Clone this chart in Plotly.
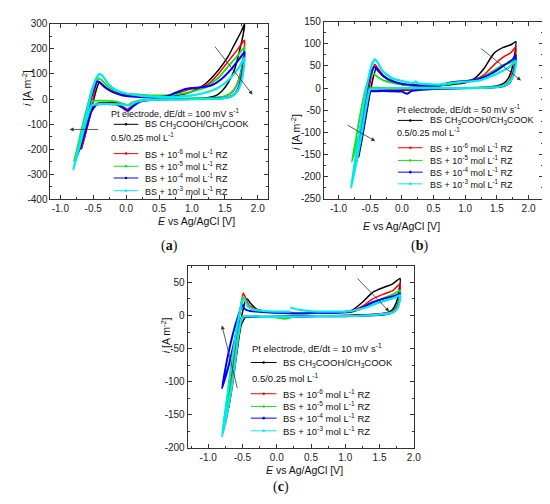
import plotly.graph_objects as go

# cyclic voltammograms on Pt, E in V vs Ag/AgCl, i in A m-2
series = ["BS", "1e-6", "1e-5", "1e-4", "1e-3"]

# ---- (a) 100 mV/s ----
E_a_bs = [-0.68, -0.62, -0.56, -0.50, -0.45, -0.41, -0.37, -0.30, -0.20, -0.10, 0.0, 0.2, 0.4, 0.6, 0.8, 1.0, 1.2, 1.4, 1.55, 1.65, 1.75, 1.8,
          1.78, 1.72, 1.65, 1.55, 1.45, 1.35, 1.2, 1.0, 0.8, 0.6, 0.4, 0.2, 0.1, 0.02, -0.05, -0.15, -0.3, -0.45, -0.52, -0.58, -0.64, -0.68]
i_a_bs = [-200, -140, -70, -10, 40, 66, 60, 45, 30, 20, 15, 10, 8, 8, 15, 30, 60, 115, 170, 220, 270, 300,
          260, 190, 120, 65, 30, 12, 4, 2, 1, 0, -2, -8, -15, -25, -20, -15, -15, -18, -40, -100, -160, -200]
E_a_6 = [-0.69, -0.63, -0.57, -0.51, -0.47, -0.44, -0.40, -0.33, -0.22, -0.1, 0.0, 0.2, 0.4, 0.6, 0.8, 0.95, 1.1, 1.25, 1.4, 1.55, 1.7, 1.8,
         1.79, 1.75, 1.7, 1.62, 1.5, 1.3, 1.0, 0.7, 0.4, 0.2, 0.1, 0.02, -0.05, -0.15, -0.3, -0.45, -0.52, -0.58, -0.64, -0.69]
i_a_6 = [-200, -140, -70, -10, 45, 70, 68, 50, 32, 22, 16, 10, 8, 10, 25, 38, 45, 60, 100, 150, 200, 235,
         190, 120, 70, 30, 10, 3, 0, -1, -3, -10, -25, -40, -30, -20, -18, -20, -45, -100, -160, -200]
E_a_5 = [-0.79, -0.72, -0.65, -0.58, -0.52, -0.46, -0.41, -0.35, -0.25, -0.1, 0.0, 0.2, 0.4, 0.6, 0.8, 1.0, 1.2, 1.4, 1.55, 1.7, 1.8,
         1.79, 1.75, 1.68, 1.6, 1.5, 1.3, 1.0, 0.7, 0.4, 0.2, 0.08, 0.02, -0.05, -0.15, -0.3, -0.5, -0.58, -0.66, -0.73, -0.79]
i_a_5 = [-247, -170, -90, -20, 40, 72, 82, 70, 45, 28, 22, 18, 15, 15, 20, 30, 45, 85, 130, 175, 208,
         170, 110, 55, 25, 12, 5, 3, 1, 0, -5, -15, -25, -18, -10, -7, -8, -40, -120, -190, -247]
E_a_4 = [-0.74, -0.67, -0.61, -0.55, -0.49, -0.44, -0.40, -0.33, -0.22, -0.1, 0.0, 0.2, 0.4, 0.6, 0.75, 0.9, 1.0, 1.15, 1.3, 1.45, 1.6, 1.72, 1.8,
         1.79, 1.76, 1.72, 1.65, 1.55, 1.3, 1.0, 0.7, 0.4, 0.2, 0.1, 0.02, -0.05, -0.15, -0.3, -0.45, -0.53, -0.6, -0.67, -0.74]
i_a_4 = [-225, -150, -80, -15, 40, 70, 66, 48, 30, 18, 12, 8, 7, 10, 25, 40, 44, 47, 55, 80, 120, 160, 188,
         150, 100, 55, 20, 6, 1, 0, -1, -3, -12, -30, -47, -35, -22, -20, -22, -50, -110, -170, -225]
E_a_3 = [-0.80, -0.73, -0.66, -0.59, -0.52, -0.46, -0.40, -0.35, -0.27, -0.15, 0.0, 0.2, 0.4, 0.6, 0.8, 1.0, 1.2, 1.4, 1.55, 1.7, 1.8,
         1.79, 1.76, 1.7, 1.6, 1.45, 1.2, 0.9, 0.6, 0.3, 0.15, 0.05, -0.05, -0.2, -0.4, -0.52, -0.6, -0.67, -0.74, -0.80]
i_a_3 = [-280, -200, -120, -45, 30, 80, 100, 90, 60, 35, 22, 14, 10, 8, 10, 15, 25, 45, 75, 120, 165,
         130, 80, 35, 10, 3, 0, -1, -2, -4, -12, -25, -22, -20, -20, -25, -80, -150, -220, -280]

# ---- (b) 50 mV/s ----
E_b_bs = [-0.68, -0.62, -0.56, -0.50, -0.45, -0.40, -0.36, -0.28, -0.15, 0.0, 0.2, 0.4, 0.6, 0.8, 1.0, 1.15, 1.3, 1.45, 1.6, 1.72, 1.8,
          1.78, 1.74, 1.68, 1.6, 1.5, 1.3, 1.0, 0.7, 0.4, 0.2, 0.0, -0.2, -0.4, -0.5, -0.55, -0.6, -0.64, -0.68]
i_b_bs = [-155, -110, -60, -10, 25, 47, 40, 25, 14, 8, 5, 4, 5, 8, 12, 22, 45, 78, 92, 98, 105,
          75, 45, 22, 10, 5, 2, 0, -1, -2, -4, -5, -5, -6, -8, -40, -85, -120, -155]
E_b_6 = [-0.70, -0.64, -0.58, -0.52, -0.47, -0.43, -0.38, -0.30, -0.15, 0.0, 0.2, 0.4, 0.6, 0.8, 1.0, 1.15, 1.3, 1.45, 1.6, 1.72, 1.8,
         1.79, 1.75, 1.68, 1.58, 1.4, 1.1, 0.8, 0.5, 0.2, 0.0, -0.2, -0.4, -0.5, -0.56, -0.62, -0.66, -0.70]
i_b_6 = [-158, -110, -60, -5, 35, 54, 45, 30, 15, 8, 6, 5, 6, 12, 16, 20, 30, 52, 70, 80, 93,
         65, 35, 14, 5, 2, 0, -1, -2, -3, -4, -4, -5, -6, -45, -95, -130, -158]
E_b_5 = [-0.79, -0.73, -0.67, -0.61, -0.55, -0.49, -0.44, -0.38, -0.3, -0.15, 0.0, 0.2, 0.4, 0.6, 0.8, 1.0, 1.15, 1.3, 1.45, 1.6, 1.72, 1.8,
         1.79, 1.75, 1.68, 1.58, 1.4, 1.1, 0.8, 0.5, 0.2, 0.0, -0.2, -0.4, -0.5, -0.56, -0.63, -0.71, -0.79]
i_b_5 = [-167, -120, -70, -25, 10, 27, 32, 25, 18, 12, 8, 6, 5, 6, 10, 14, 18, 26, 40, 52, 58, 67,
         50, 30, 12, 5, 2, 1, 0, 0, 0, 0, 0, 1, 0, -30, -80, -125, -167]
E_b_4 = [-0.76, -0.70, -0.64, -0.58, -0.52, -0.47, -0.43, -0.38, -0.3, -0.15, 0.0, 0.2, 0.4, 0.6, 0.75, 0.9, 1.05, 1.2, 1.35, 1.5, 1.65, 1.75, 1.8,
         1.79, 1.76, 1.7, 1.6, 1.4, 1.1, 0.8, 0.5, 0.3, 0.15, 0.08, 0.0, -0.2, -0.4, -0.5, -0.55, -0.62, -0.69, -0.76]
i_b_4 = [-190, -140, -85, -30, 15, 40, 48, 40, 28, 16, 10, 7, 6, 7, 12, 15, 16, 20, 28, 40, 55, 65, 75,
         55, 32, 12, 4, 1, 0, -1, -2, -4, -7, -13, -8, -7, -7, -8, -40, -100, -150, -190]
E_b_3 = [-0.80, -0.74, -0.67, -0.60, -0.53, -0.47, -0.42, -0.37, -0.3, -0.15, 0.0, 0.2, 0.22, 0.25, 0.4, 0.6, 0.8, 0.95, 1.1, 1.25, 1.4, 1.55, 1.7, 1.8,
         1.79, 1.75, 1.68, 1.58, 1.4, 1.1, 0.8, 0.5, 0.2, 0.0, -0.2, -0.4, -0.5, -0.56, -0.63, -0.72, -0.80]
i_b_3 = [-226, -165, -100, -35, 20, 55, 65, 55, 38, 22, 16, 12, 15, 11, 9, 8, 12, 14, 15, 18, 26, 36, 48, 62,
         45, 25, 10, 4, 1, 0, 0, 0, 0, 0, -1, -1, -2, -40, -100, -170, -226]

# ---- (c) 10 mV/s ----
E_c_bs = [-0.70, -0.65, -0.60, -0.55, -0.50, -0.46, -0.43, -0.38, -0.3, -0.15, 0.0, 0.3, 0.6, 0.9, 1.1, 1.25, 1.4, 1.55, 1.68, 1.8,
          1.78, 1.74, 1.68, 1.55, 1.3, 1.0, 0.6, 0.2, -0.2, -0.45, -0.52, -0.58, -0.64, -0.70]
i_c_bs = [-140, -95, -55, -20, 5, 22, 25, 18, 10, 6, 5, 4, 4, 5, 8, 20, 35, 42, 47, 56,
          35, 18, 8, 3, 1, 0, -1, -1, -2, -2, -15, -55, -100, -140]
E_c_6 = [-0.75, -0.70, -0.64, -0.58, -0.53, -0.49, -0.46, -0.4, -0.3, -0.15, 0.0, 0.3, 0.6, 0.9, 1.1, 1.25, 1.4, 1.55, 1.7, 1.8,
         1.79, 1.75, 1.68, 1.55, 1.3, 1.0, 0.6, 0.2, -0.2, -0.5, -0.56, -0.62, -0.69, -0.75]
i_c_6 = [-165, -120, -70, -25, 10, 34, 28, 15, 9, 6, 5, 4, 5, 5, 7, 14, 25, 32, 38, 48,
         30, 14, 6, 3, 1, 0, -1, -2, -2, -2, -30, -80, -130, -165]
E_c_5 = [-0.78, -0.72, -0.66, -0.60, -0.54, -0.5, -0.46, -0.4, -0.3, -0.15, 0.0, 0.3, 0.6, 0.9, 1.1, 1.25, 1.4, 1.55, 1.7, 1.8,
         1.79, 1.75, 1.68, 1.55, 1.3, 1.0, 0.6, 0.25, 0.12, 0.0, -0.2, -0.5, -0.56, -0.63, -0.71, -0.78]
i_c_5 = [-175, -125, -75, -30, 5, 28, 22, 13, 8, 5, 4, 4, 4, 5, 6, 11, 19, 26, 32, 38,
         25, 12, 5, 2, 0, -1, -1, -2, -5, -3, -2, -2, -30, -85, -135, -175]
E_c_4 = [-0.80, -0.74, -0.68, -0.62, -0.56, -0.52, -0.5, -0.47, -0.4, -0.3, -0.15, 0.0, 0.3, 0.6, 0.9, 1.1, 1.25, 1.4, 1.55, 1.7, 1.8,
         1.79, 1.75, 1.68, 1.55, 1.3, 1.0, 0.6, 0.2, -0.2, -0.5, -0.56, -0.62, -0.7, -0.80]
i_c_4 = [-110, -75, -45, -20, 0, 12, 17, 10, 7, 6, 5, 4, 3, 4, 4, 6, 12, 20, 25, 29, 33,
         22, 10, 4, 1, 0, -1, -1, -2, -2, -3, -15, -40, -75, -110]
E_c_3 = [0.2, 0.3, 0.45, 0.6, 0.8, 1.0, 1.15, 1.3, 1.45, 1.6, 1.72, 1.8,
         1.79, 1.75, 1.68, 1.55, 1.3, 1.0, 0.6, 0.2, -0.2, -0.5, -0.56, -0.63, -0.71, -0.80,
         -0.74, -0.67, -0.60, -0.54, -0.5, -0.47, -0.43, -0.35, -0.2, 0.0, 0.2]
i_c_3 = [12, 9, 7, 6, 6, 6, 8, 12, 18, 23, 27, 31,
         20, 9, 4, 2, 0, -1, -1, -2, -2, -2, -30, -90, -140, -183,
         -135, -80, -30, 5, 22, 25, 15, 9, 7, 6, 6]

panel_a = [(E_a_bs, i_a_bs), (E_a_6, i_a_6), (E_a_5, i_a_5), (E_a_4, i_a_4), (E_a_3, i_a_3)]
panel_b = [(E_b_bs, i_b_bs), (E_b_6, i_b_6), (E_b_5, i_b_5), (E_b_4, i_b_4), (E_b_3, i_b_3)]
panel_c = [(E_c_bs, i_c_bs), (E_c_6, i_c_6), (E_c_5, i_c_5), (E_c_4, i_c_4), (E_c_3, i_c_3)]

rates = ["100", "50", "10"]
legend_labels = ["BS CH<sub>3</sub>COOH/CH<sub>3</sub>COOK",
                 "BS + 10<sup>-6</sup> mol L<sup>-1</sup> RZ",
                 "BS + 10<sup>-5</sup> mol L<sup>-1</sup> RZ",
                 "BS + 10<sup>-4</sup> mol L<sup>-1</sup> RZ",
                 "BS + 10<sup>-3</sup> mol L<sup>-1</sup> RZ"]
x_ticks = [-1.0, -0.5, 0.0, 0.5, 1.0, 1.5, 2.0]
y_ticks_a = [-400, -300, -200, -100, 0, 100, 200, 300]
y_ticks_b = [-250, -200, -150, -100, -50, 0, 50, 100, 150]
y_ticks_c = [-200, -150, -100, -50, 0, 50]

# ---- styling ----
W, H = 550, 504
FONT = "Liberation Sans, Arial, sans-serif"
colors = ["#000000", "#ff0000", "#1fdc1f", "#0000ff", "#00eaea"]
widths = [1.5, 1.5, 1.8, 2.0, 2.2]


def fx(p):
    return p / W


def fy(p):
    return 1 - p / H


# pixel boxes of the three plot areas: (left, right, top, bottom)
boxes = {"a": (43, 263, 10, 190), "b": (320, 542, 8, 189), "c": (182, 411, 258, 444.5)}

fig = go.Figure()

for k, (name, data) in enumerate([("a", panel_a), ("b", panel_b), ("c", panel_c)]):
    sfx = "" if k == 0 else str(k + 1)
    for j, (E, cur) in enumerate(data):
        fig.add_trace(go.Scatter(
            x=E, y=cur, mode="lines", name=series[j],
            line=dict(color=colors[j], width=widths[j], shape="spline", smoothing=0.5),
            xaxis="x" + sfx, yaxis="y" + sfx, showlegend=False, hoverinfo="skip"))


def axis(rng, box, vertical, ticks, minor, anchor):
    l, r, t, b = box
    dom = [fy(b), fy(t)] if vertical else [fx(l), fx(r)]
    txt = [str(v) for v in ticks] if vertical else [f"{v:.1f}" for v in ticks]
    return dict(range=rng, domain=dom, anchor=anchor, showline=True, linecolor="#333",
                linewidth=1, mirror="allticks", ticks="inside", ticklen=4, tickwidth=1,
                tickcolor="#333", tickmode="array", tickvals=ticks, ticktext=txt,
                showgrid=False, zeroline=False, fixedrange=True,
                tickfont=dict(family=FONT, size=10, color="#222"),
                minor=dict(ticks="inside", ticklen=2, tickwidth=1, tickcolor="#333",
                           tickmode="linear", tick0=0, dtick=minor, showgrid=False))


fig.update_layout(
    width=W, height=H, margin=dict(l=0, r=0, t=0, b=0),
    paper_bgcolor="white", plot_bgcolor="white", showlegend=False,
    xaxis=axis([-1.15, 2.15], boxes["a"], False, x_ticks, 0.25, "y"),
    yaxis=axis([-400, 300], boxes["a"], True, y_ticks_a, 50, "x"),
    xaxis2=axis([-1.23, 2.23], boxes["b"], False, x_ticks, 0.25, "y2"),
    yaxis2=axis([-250, 150], boxes["b"], True, y_ticks_b, 25, "x2"),
    xaxis3=axis([-1.3, 2.0], boxes["c"], False, x_ticks, 0.25, "y3"),
    yaxis3=axis([-200, 75], boxes["c"], True, y_ticks_c, 25, "x3"),
)

ann = []
shapes = []
# legends: title x, key start/end, text x, row y (pixels), font size
legend_pos = {
    "a": (102, 107, 132, 137, [101, 113, 126, 143, 156, 168, 181], 9),
    "b": (392, 395, 420, 425, [97, 109, 121, 137, 150, 162, 174], 9),
    "c": (245, 246, 272, 277, [342, 357, 373, 389, 402, 414, 427], 9.5),
}
for k, name in enumerate(["a", "b", "c"]):
    tx, k0, k1, txt_x, ys, fs = legend_pos[name]
    lf = dict(family=FONT, size=fs, color="#111")
    ann.append(dict(x=fx(tx), y=fy(ys[0]), xref="paper", yref="paper", xanchor="left", yanchor="middle",
                    text=f"Pt electrode, dE/dt = {rates[k]} mV s<sup>-1</sup>", showarrow=False, font=lf))
    ann.append(dict(x=fx(tx), y=fy(ys[2]), xref="paper", yref="paper", xanchor="left", yanchor="middle",
                    text="0.5/0.25 mol L<sup>-1</sup>", showarrow=False, font=lf))
    rows = [ys[1]] + ys[3:]
    for j, yy in enumerate(rows):
        ann.append(dict(x=fx(txt_x), y=fy(yy), xref="paper", yref="paper", xanchor="left", yanchor="middle",
                        text=legend_labels[j], showarrow=False, font=lf))
        shapes.append(dict(type="line", xref="paper", yref="paper", x0=fx(k0), x1=fx(k1),
                           y0=fy(yy), y1=fy(yy), line=dict(color=colors[j], width=1)))
        cx = (k0 + k1) / 2
        shapes.append(dict(type="circle", xref="paper", yref="paper", x0=fx(cx - 1.3), x1=fx(cx + 1.3),
                           y0=fy(yy + 1.3), y1=fy(yy - 1.3), fillcolor=colors[j], line=dict(width=0)))

# axis titles
tf = dict(family=FONT, size=10.5, color="#111")
for (xc, yc) in [(150, 212), (440, 217), (300, 475)]:
    ann.append(dict(x=fx(xc), y=fy(yc), xref="paper", yref="paper", showarrow=False,
                    text="<i>E</i> vs Ag/AgCl [V]", font=tf))
for (xc, yc) in [(10, 55), (291, 100), (151, 350)]:
    ann.append(dict(x=fx(xc), y=fy(yc), xref="paper", yref="paper", showarrow=False, textangle=-90,
                    text="<i>i</i> [A m<sup>-2</sup>]", font=tf))

# panel letters
pf = dict(family="Liberation Serif, Times New Roman, serif", size=14, color="#111")
for (xc, yc, t) in [(153, 238, "a"), (427, 238, "b"), (277, 495, "c")]:
    ann.append(dict(x=fx(xc), y=fy(yc), xref="paper", yref="paper", showarrow=False,
                    text=f"(<b>{t}</b>)", font=pf))

# trend arrows (data coordinates: tail -> head)
arrows = [("", (1.33, 215), (1.92, 18)), ("", (-0.40, -121), (-0.86, -121)),
          ("2", (1.23, 92), (1.88, 17)), ("2", (-0.88, -82), (-0.42, -120)),
          ("3", (1.16, 58), (1.64, 6)), ("3", (-0.57, -112), (-0.80, -15))]
for sfx, tail, head in arrows:
    ann.append(dict(x=head[0], y=head[1], ax=tail[0], ay=tail[1], xref="x" + sfx, yref="y" + sfx,
                    axref="x" + sfx, ayref="y" + sfx, text="", showarrow=True, arrowhead=2,
                    arrowsize=1, arrowwidth=0.8, arrowcolor="#333"))

fig.update_layout(annotations=ann, shapes=shapes)
fig.write_html("out.html")
